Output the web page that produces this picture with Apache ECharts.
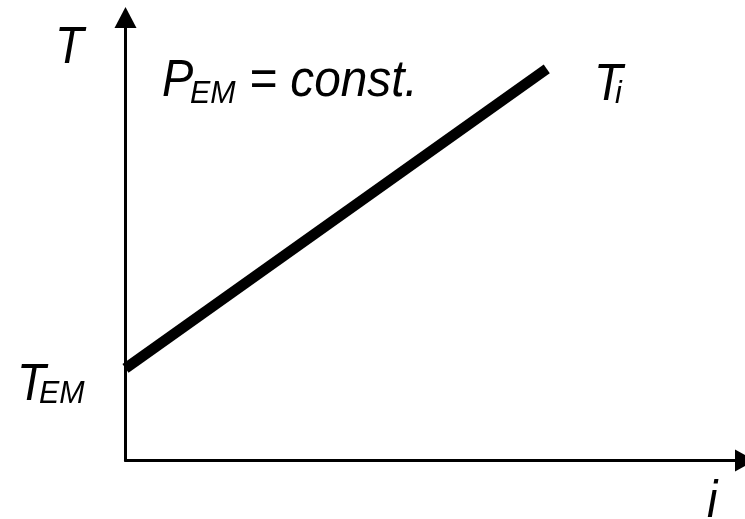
<!DOCTYPE html>
<html>
<head>
	<meta charset="utf-8">
	<title>T over i</title>
	<style>
		html,body{margin:0;padding:0;background:#fff}
		#main{width:745px;height:519px}
	</style>
</head>
<body>
<div id="main"></div>
<script src="https://cdn.jsdelivr.net/npm/echarts@6/dist/echarts.min.js"></script>
<script>
	// 数据：电流 i 与温度 T（任意单位）
	var currentValues = [0, 6.8];
	var temperatureValues = [2.08, 8.84];
	var axisNames = ['i', 'T'];

	var font = '"Liberation Sans Narrow", "Liberation Sans", Arial, sans-serif';

	// 斜体文字，sx 用来把字体压窄一点
	function txt(x, y, s, size, sx) {
		return {
			type: 'text', x: x, y: y, scaleX: sx || 1,
			style: {
				text: s, fill: '#000', font: 'italic ' + size + 'px ' + font,
				textAlign: 'left', textVerticalAlign: 'middle'
			}
		};
	}

	var chart = echarts.init(document.getElementById('main'));
	var option = {
		animation: false,
		grid: {left: 125.5, right: 0, top: 17.5, bottom: 58.5},
		xAxis: {
			type: 'value', min: 0, max: 10,
			axisLine: {lineStyle: {color: '#000', width: 3}, symbol: ['none', 'triangle'], symbolSize: [22, 20]},
			axisTick: {show: false}, axisLabel: {show: false}, splitLine: {show: false}
		},
		yAxis: {
			type: 'value', min: 0, max: 10,
			axisLine: {lineStyle: {color: '#000', width: 3}, symbol: ['none', 'triangle'], symbolSize: [22, 21]},
			axisTick: {show: false}, axisLabel: {show: false}, splitLine: {show: false}
		},
		series: [{
			type: 'line',
			data: currentValues.map(function (v, k) { return [v, temperatureValues[k]]; }),
			showSymbol: false,
			lineStyle: {color: '#000', width: 10.5, cap: 'butt'}
		}],
		graphic: [
			txt(55, 49, axisNames[1], 52, 0.9),
			txt(707, 503, axisNames[0], 52, 0.9),
			txt(162, 82, 'P', 52, 0.9),
			txt(190, 94, 'EM', 32, 0.95),
			txt(249, 82, '= const.', 52, 0.92),
			txt(594, 86, 'T', 52, 0.9),
			txt(615, 94.5, 'i', 32, 0.95),
			txt(17, 386, 'T', 52, 0.9),
			txt(39, 394.5, 'EM', 32, 0.95)
		]
	};
	chart.setOption(option);
</script>
</body>
</html>
